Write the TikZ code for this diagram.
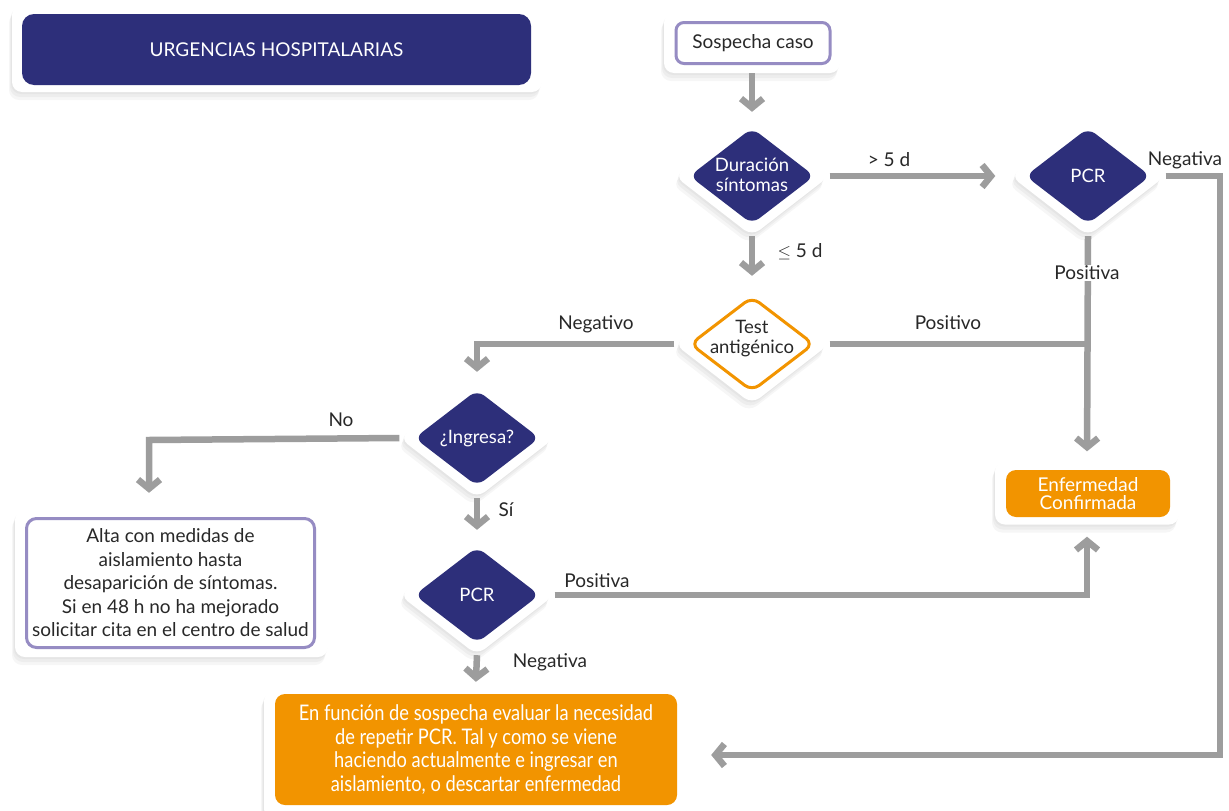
\documentclass[tikz,border=0pt]{standalone}
\usepackage{fontspec}
\setmainfont{Lato}
\newfontfamily\condf{Lato}[FakeStretch=0.85]
\usetikzlibrary{shapes.geometric,arrows.meta,shadows}
\definecolor{navy}{RGB}{45,47,122}
\definecolor{orng}{RGB}{242,148,0}
\definecolor{lav}{RGB}{150,140,195}
\definecolor{lgray}{RGB}{157,157,157}
\definecolor{txt}{RGB}{40,40,40}
\begin{document}
\begin{tikzpicture}[x=1pt,y=-1pt,
  font=\fontsize{19}{22}\selectfont,
  shad/.style={
    drop shadow={opacity=0.07, shadow xshift=-1pt, shadow yshift=-2pt},
    drop shadow={opacity=0.07, shadow xshift=-2pt, shadow yshift=-5pt},
    drop shadow={opacity=0.07, shadow xshift=-3pt, shadow yshift=-8pt}},
  whitebox/.style={rectangle, rounded corners=10pt, fill=white, shad, inner sep=0pt},
  whitedia/.style={diamond, rounded corners=10pt, fill=white, shad, inner sep=0pt,
    minimum width=155pt, minimum height=120pt},
  navydia/.style={diamond, rounded corners=9pt, fill=navy, inner sep=0pt,
    minimum width=125pt, minimum height=96pt},
  dtext/.style={text=white, align=center, inner sep=0pt, font=\fontsize{18.5}{20}\selectfont},
  conn/.style={draw=lgray, line width=6.5pt},
  arr/.style={conn, -{Straight Barb[length=9pt, width=22pt]}},
  lbl/.style={text=txt, inner sep=1pt}
]
\useasboundingbox (0,0) rectangle (1229,811);
\fill[white] (0,0) rectangle (1229,811);

% title
\node[whitebox, minimum width=530pt, minimum height=87pt] (titleo) at (277,48.5) {};
\node[rectangle, rounded corners=12pt, fill=navy, minimum width=509pt, minimum height=71pt,
  text=white] (title) at (276.5,49.5) {URGENCIAS HOSPITALARIAS};

% sospecha
\node[whitebox, minimum width=176pt, minimum height=60pt] (sospo) at (752,43) {};
\node[rectangle, rounded corners=8pt, draw=lav, line width=3pt, fill=white,
  minimum width=154pt, minimum height=41pt, text=txt] (sosp) at (753,43) {Sospecha caso};

% duracion
\node[whitedia] (duro) at (752,176) {};
\node[navydia] (dur) at (752,176) {};
\node[dtext] (durt) at (752,175) {Duración\\síntomas};

% PCR top right
\node[whitedia] (pcr1o) at (1088,176) {};
\node[navydia] (pcr1) at (1088,176) {};
\node[dtext] (pcr1t) at (1088,176) {PCR};

% test antigenico
\node[whitedia] (testo) at (752,344) {};
\node[diamond, rounded corners=9pt, fill=white, draw=orng, line width=3pt, inner sep=0pt,
  minimum width=124pt, minimum height=95pt] (test) at (752,344) {};
\node[dtext, text=txt] (testt) at (752,339) {Test\\antigénico};

% ingresa
\node[whitedia] (ingo) at (477,438) {};
\node[navydia] (ing) at (477,438) {};
\node[dtext] (ingt) at (477,438) {¿Ingresa?};

% PCR lower
\node[whitedia] (pcr2o) at (477,595) {};
\node[navydia] (pcr2) at (477,595) {};
\node[dtext] (pcr2t) at (477,595) {PCR};

% enfermedad confirmada
\node[whitebox, minimum width=184pt, minimum height=63pt] (enfo) at (1087,493) {};
\node[rectangle, rounded corners=10pt, fill=orng, minimum width=164pt, minimum height=47pt,
  text=white, align=center, font=\fontsize{19}{18}\selectfont] (enf) at (1088,493.5)
  {Enfermedad\\Confirmada};

% alta
\node[whitebox, minimum width=313pt, minimum height=147pt] (altao) at (171.5,583.5) {};
\node[rectangle, rounded corners=10pt, draw=lav, line width=3pt, fill=white,
  minimum width=288pt, minimum height=129pt, text=txt, align=center,
  font=\fontsize{19}{23.5}\selectfont] (alta) at (170.5,583)
  {Alta con medidas de\\aislamiento hasta\\desaparición de síntomas.\\Si en 48 h no ha mejorado\\solicitar cita en el centro de salud};

% bottom
\node[whitebox, minimum width=423pt, minimum height=128pt] (boto) at (475.5,755) {};
\node[rectangle, rounded corners=10pt, fill=orng, minimum width=402pt, minimum height=111pt,
  text=white, align=center, font=\condf\fontsize{21.5}{23.5}\selectfont] (bot) at (476,749.5)
  {En función de sospecha evaluar la necesidad\\de repetir PCR. Tal y como se viene\\haciendo actualmente e ingresar en\\aislamiento, o descartar enfermedad};

% connectors
\coordinate (cne) at (1220,176);
\coordinate (cno) at (149,440);
\coordinate (jp) at (pcr1o.south |- testo.east);

\draw[arr, shorten >=4pt] (sospo.south) -- (duro.north);
\draw[arr, shorten >=15pt] (duro.east) -- (pcr1o.west);
\draw[arr, shorten >=24pt] (pcr1o.east) -- (cne) |- (boto.east);
\draw[arr, shorten >=10pt] (pcr1o.south) -- (enfo.north);
\draw[arr, shorten >=8pt] (duro.south) -- (testo.north);
\draw[conn] (testo.east) -- (jp);
\draw[arr, shorten >=6pt] (testo.west) -| (ingo.north);
\draw[arr, shorten >=17pt] (ingo.west) -- (cno) -- (cno |- altao.north);
\draw[arr, shorten >=5pt] (ingo.south) -- (pcr2o.north);
\draw[arr, shorten >=12pt] (pcr2o.east) -| (enfo.south);
\draw[arr, shorten >=9pt] (pcr2o.south) -- (boto.north);

% labels
\node[lbl] (l5d) at (889,160) {> 5 d};
\node[lbl] (lneg1) at (1185,160) {Negativa};
\node[lbl, fill=white] (lpos1) at (1087,273) {Positiva};
\node[lbl] (lle5) at (800,252) {$\leq$ 5 d};
\node[lbl] (lposv) at (948,323) {Positivo};
\node[lbl] (lnegv) at (596,324) {Negativo};
\node[lbl] (lno) at (341,420) {No};
\node[lbl] (lsi) at (506,510) {Sí};
\node[lbl] (lpos2) at (597,581) {Positiva};
\node[lbl] (lneg2) at (550,662) {Negativa};
\end{tikzpicture}
\end{document}
